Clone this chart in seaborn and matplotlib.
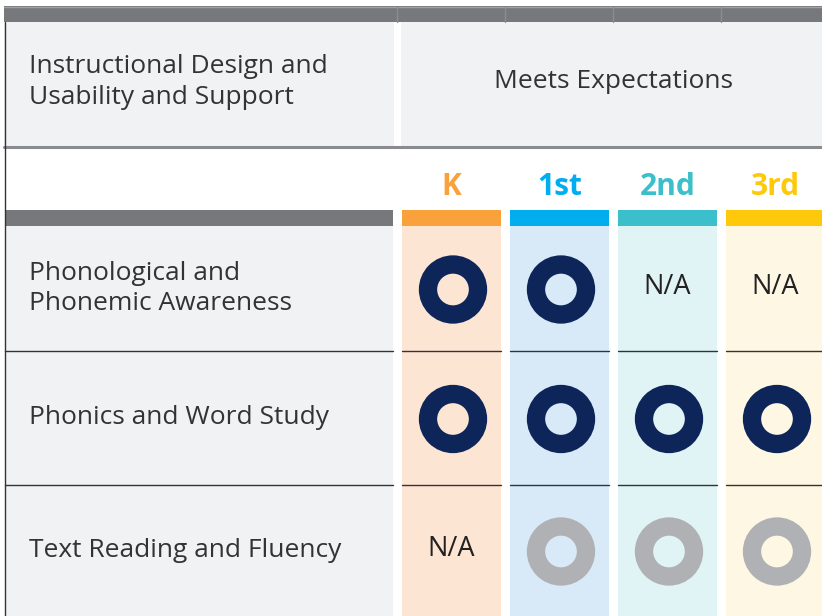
import matplotlib
matplotlib.use("Agg")
import matplotlib.pyplot as plt
import matplotlib.patches as mpatches
import seaborn as sns
import pandas as pd

# ---- data ----
grades = ["K", "1st", "2nd", "3rd"]
grade_colors = ["#f9a23b", "#00aeef", "#3bbfca", "#ffc90b"]
grade_bg = ["#fde5d4", "#d8eaf7", "#e0f3f5", "#fef7e4"]
criteria = ["Phonological and\nPhonemic Awareness", "Phonics and Word Study", "Text Reading and Fluency"]
status = [
    ["meets", "meets", "na", "na"],
    ["meets", "meets", "meets", "meets"],
    ["na", "partial", "partial", "partial"],
]
header_left = "Instructional Design and\nUsability and Support"
header_right = "Meets Expectations"
status_colors = {"meets": "#0d2559", "partial": "#b0b1b4"}

sns.set_theme(style="white")
plt.rcParams["font.family"] = ["Open Sans", "DejaVu Sans"]

W, H = 822, 616
fig = plt.figure(figsize=(W / 100, H / 100), dpi=100)
ax = fig.add_axes([0, 0, 1, 1])

col_x0 = [402, 510, 618, 726]
col_w = 99
row_y = [226, 351, 485, 616]
txt = "#333333"
FS = 19

def rect(x, y, w, h, c, z=1):
    ax.add_patch(mpatches.Rectangle((x, y), w, h, facecolor=c, edgecolor="none", zorder=z))

# top bar
rect(4, 6, W, 16, "#77787b")
ax.plot([4, W], [6.5, 6.5], color="#a0a1a4", lw=1, zorder=2)
for xv in [397, 505, 613, 721]:
    ax.plot([xv, xv], [7, 22], color="#8c8d90", lw=1, zorder=2)
# header row
rect(4, 22, 390, 124, "#f1f2f4")
rect(401, 22, W - 401, 124, "#f1f2f4")
ax.plot([4, W], [146.5, 146.5], color="#8a8b8e", lw=2.2, zorder=2)
ax.text(29, 82, header_left, ha="left", va="center", fontsize=FS, color=txt, linespacing=1.3)
ax.text(613, 81, header_right, ha="center", va="center", fontsize=FS, color=txt)

# grade headers
rect(5, 210, 388, 16, "#77787b")
for i, g in enumerate(grades):
    cx = col_x0[i] + col_w / 2
    ax.text(cx, 187, g, ha="center", va="center", fontsize=21.5, fontweight="bold", color=grade_colors[i])
    rect(col_x0[i], 210, col_w + (4 if i == 3 else 0), 16, grade_colors[i], 2)
    rect(col_x0[i], 226, col_w + (4 if i == 3 else 0), H - 226, grade_bg[i], 1)
rect(5, 226, 388, H - 226, "#f1f2f4")

# row dividers
for yv in row_y[1:-1]:
    ax.plot([5, 393], [yv, yv], color="#333333", lw=1, zorder=3)
    for i in range(4):
        ax.plot([col_x0[i], col_x0[i] + col_w + (4 if i == 3 else 0)], [yv, yv], color="#333333", lw=1, zorder=3)
ax.plot([4.5, 4.5], [22, H], color="#333333", lw=1, zorder=4)

# criteria labels + cells
rows = []
for r, c in enumerate(criteria):
    cy = (row_y[r] + row_y[r + 1]) / 2
    ax.text(29, cy, c, ha="left", va="center", fontsize=FS, color=txt, linespacing=1.3)
    for i, g in enumerate(grades):
        cx = col_x0[i] + col_w / 2 + 1.5
        s = status[r][i]
        if s == "na":
            ax.text(cx - 1.5, cy - 1.5, "N/A", ha="center", va="center", fontsize=19.5, color="#222222")
        else:
            rows.append({"x": cx, "y": cy + 1, "status": s, "grade": g})

df = pd.DataFrame(rows)
sns.scatterplot(data=df, x="x", y="y", hue="status", palette=status_colors, s=2420,
                linewidth=0, legend=False, ax=ax, zorder=5)
sns.scatterplot(data=df, x="x", y="y", hue="grade", palette=dict(zip(grades, grade_bg)),
                s=520, linewidth=0, legend=False, ax=ax, zorder=6)
ax.set_xlim(0, W)
ax.set_ylim(H, 0)
ax.axis("off")

fig.savefig("out.png", dpi=100)
